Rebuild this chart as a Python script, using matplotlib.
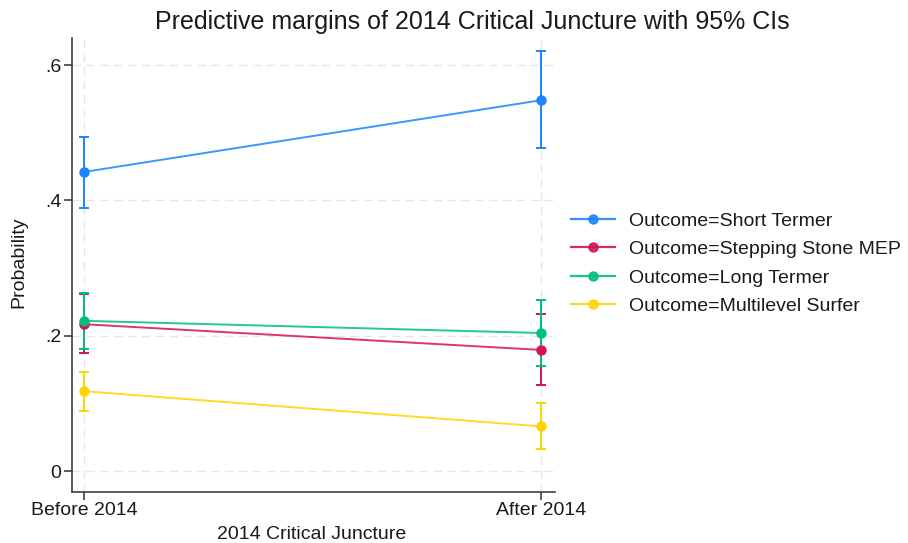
import matplotlib
matplotlib.use("Agg")
import matplotlib.pyplot as plt
from matplotlib.lines import Line2D

plt.rcParams['font.family'] = ['Liberation Sans', 'DejaVu Sans']

categories = ["Before 2014", "After 2014"]
series_names = [
    "Outcome=Short Termer",
    "Outcome=Stepping Stone MEP",
    "Outcome=Long Termer",
    "Outcome=Multilevel Surfer",
]
short_termer = [0.442, 0.548]
short_termer_lo = [0.389, 0.477]
short_termer_hi = [0.494, 0.621]

stepping_stone = [0.217, 0.179]
stepping_stone_lo = [0.174, 0.127]
stepping_stone_hi = [0.262, 0.232]

long_termer = [0.222, 0.204]
long_termer_lo = [0.180, 0.155]
long_termer_hi = [0.263, 0.253]

multilevel = [0.118, 0.066]
multilevel_lo = [0.089, 0.032]
multilevel_hi = [0.146, 0.100]

yticks = [0, 0.2, 0.4, 0.6]
ytick_labels = ["0", ".2", ".4", ".6"]

colors = ["#1a85ff", "#d41159", "#00bf7f", "#ffd400"]

fig = plt.figure(figsize=(9.08, 5.43), dpi=100)
ax = fig.add_axes([72 / 908, 1 - 492 / 543, (555 - 72) / 908, (492 - 38) / 543])

x = list(range(len(categories)))
data = [
    (short_termer, short_termer_lo, short_termer_hi),
    (stepping_stone, stepping_stone_lo, stepping_stone_hi),
    (long_termer, long_termer_lo, long_termer_hi),
    (multilevel, multilevel_lo, multilevel_hi),
]

handles = []
for (vals, lo, hi), col, name in zip(data, colors, series_names):
    yerr = [[v - l for v, l in zip(vals, lo)], [h - v for v, h in zip(vals, hi)]]
    ax.errorbar(x, vals, yerr=yerr, fmt="none", ecolor=col, elinewidth=1.4,
                capsize=3.8, capthick=1.4, zorder=3)
    ax.plot(x, vals, color=col, lw=1.4, alpha=0.85, zorder=3)
    ax.plot(x, vals, "o", color=col, ms=6.5, zorder=4)
    handles.append(Line2D([0], [0], color=col, lw=1.6, alpha=0.9, marker="o",
                          ms=6.5, markeredgecolor=col, markerfacecolor=col))

ax.set_xlim(-0.026, 1.031)
ax.set_ylim(-0.031, 0.640)
ax.set_xticks(x)
ax.set_xticklabels(categories, fontsize=14)
ax.set_yticks(yticks)
ax.set_yticklabels(ytick_labels, fontsize=14)
ax.grid(True, linestyle=(0, (6, 4)), color="#e6e6e6", lw=1.0, zorder=0)
ax.set_axisbelow(True)

for side in ("top", "right"):
    ax.spines[side].set_visible(False)
for side in ("left", "bottom"):
    ax.spines[side].set_color("#404040")
    ax.spines[side].set_linewidth(1.2)
ax.tick_params(direction="out", length=6, width=1.2, color="#404040",
               labelcolor="#1a1a1a", pad=1.5)

ax.set_xlabel("2014 Critical Juncture", fontsize=14, color="#1a1a1a")
ax.xaxis.set_label_coords(0.497, -0.074)
ax.set_ylabel("Probability", fontsize=14, color="#1a1a1a")
ax.yaxis.set_label_coords(-0.092, 0.506)
fig.suptitle("Predictive margins of 2014 Critical Juncture with 95% CIs",
             fontsize=18, color="#1a1a1a", x=0.52, y=0.982)

fig.legend(handles, series_names, loc="center left",
           bbox_to_anchor=(553 / 908, 1 - 263.5 / 543), frameon=False,
           fontsize=14, handlelength=2.3, handletextpad=0.72,
           labelspacing=0.56, labelcolor="#1a1a1a")

fig.savefig("out.png", dpi=100, facecolor="white")
